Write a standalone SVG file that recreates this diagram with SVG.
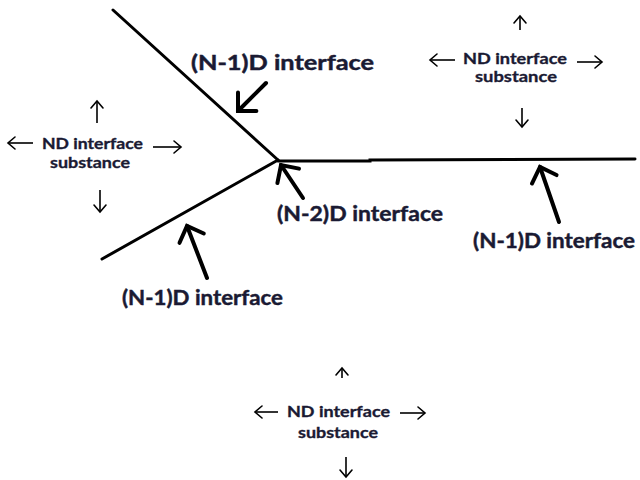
<svg xmlns="http://www.w3.org/2000/svg" width="640" height="480" viewBox="0 0 640 480">
  <defs>
    <marker id="bigHead" markerUnits="userSpaceOnUse" orient="auto" markerWidth="40" markerHeight="40" refX="0" refY="0" overflow="visible">
      <path d="M-13,-13 L0,0 L-13,13" fill="none" stroke="#000" stroke-width="4" stroke-linejoin="miter" stroke-linecap="round"/>
    </marker>
    <marker id="smallHead" markerUnits="userSpaceOnUse" orient="auto" markerWidth="20" markerHeight="20" refX="0" refY="0" overflow="visible">
      <path d="M-7,-6 L0,0 L-7,6" fill="none" stroke="#000" stroke-width="1.6" stroke-linecap="round"/>
    </marker>
    <style>
      .iface { fill: none; stroke: #000; stroke-width: 3; stroke-linecap: round; }
      .big { fill: none; stroke: #000; stroke-width: 4; stroke-linecap: round; marker-end: url(#bigHead); }
      .small { fill: none; stroke: #000; stroke-width: 1.6; marker-end: url(#smallHead); }
      .lbl { font-family: Lato, "Open Sans", "DejaVu Sans", sans-serif; font-weight: bold; font-size: 21px; fill: #1a1a33; stroke: #1a1a33; stroke-width: 0.45; }
      .nd { font-family: Lato, "Open Sans", "DejaVu Sans", sans-serif; font-weight: bold; font-size: 16px; fill: #1a1a33; stroke: #1a1a33; stroke-width: 0.35; text-anchor: middle; }
    </style>
  </defs>
  <rect width="640" height="480" fill="#fff"/>

  <g id="interfaces">
    <path class="iface" d="M113,10 L278,160"/>
    <path class="iface" d="M102,259 L278,160"/>
    <path class="iface" d="M278,161 L370,161 L370,160 L635,159"/>
  </g>

  <g id="connectors">
    <path class="big" d="M266,83 L238,111"/>
    <path class="big" d="M303,198 L281,165"/>
    <path class="big" d="M559,222 L540,167"/>
    <path class="big" d="M207,278 L187,226"/>
  </g>

  <g id="label-n1-top">
    <text class="lbl" x="191" y="70" textLength="183" lengthAdjust="spacingAndGlyphs">(N-1)D interface</text>
  </g>
  <g id="label-n2">
    <text class="lbl" x="277" y="221" textLength="166" lengthAdjust="spacingAndGlyphs">(N-2)D interface</text>
  </g>
  <g id="label-n1-right">
    <text class="lbl" x="473" y="248" textLength="162" lengthAdjust="spacingAndGlyphs">(N-1)D interface</text>
  </g>
  <g id="label-n1-bottom">
    <text class="lbl" x="122" y="305" textLength="161" lengthAdjust="spacingAndGlyphs">(N-1)D interface</text>
  </g>

  <g id="nd-left">
    <path class="small" d="M97,123 L97,101"/>
    <path class="small" d="M33,143 L8,143"/>
    <path class="small" d="M153,147 L181,147"/>
    <path class="small" d="M100,190 L100,212"/>
    <text class="nd" x="92.5" y="149" textLength="101" lengthAdjust="spacingAndGlyphs">ND interface</text>
    <text class="nd" x="90" y="168" textLength="80" lengthAdjust="spacingAndGlyphs">substance</text>
  </g>

  <g id="nd-right">
    <path class="small" d="M520,30 L520,16"/>
    <path class="small" d="M455,60 L430,60"/>
    <path class="small" d="M577,62 L602,62"/>
    <path class="small" d="M522,108 L522,127"/>
    <text class="nd" x="515" y="64" textLength="104" lengthAdjust="spacingAndGlyphs">ND interface</text>
    <text class="nd" x="516" y="82" textLength="82" lengthAdjust="spacingAndGlyphs">substance</text>
  </g>

  <g id="nd-bottom">
    <path class="small" d="M342,378 L342,368"/>
    <path class="small" d="M278,412 L255,412"/>
    <path class="small" d="M400,413 L425,413"/>
    <path class="small" d="M346,457 L346,477"/>
    <text class="nd" x="338.5" y="417" textLength="103" lengthAdjust="spacingAndGlyphs">ND interface</text>
    <text class="nd" x="338" y="438" textLength="80" lengthAdjust="spacingAndGlyphs">substance</text>
  </g>
</svg>
